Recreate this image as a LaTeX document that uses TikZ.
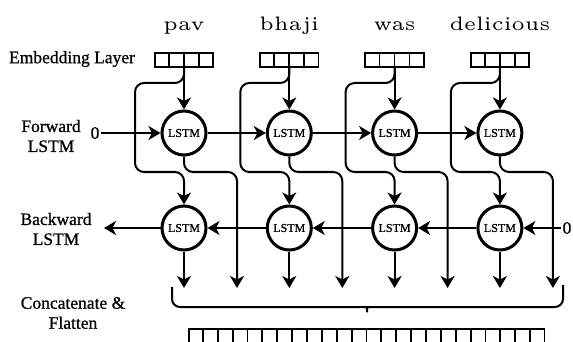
\documentclass[tikz,border=0pt]{standalone}
\usepackage{fontspec}
\setmainfont{Liberation Serif}[FakeBold=0.8]
\newfontfamily\wordfont{lmroman5-regular.otf}
\usetikzlibrary{arrows.meta,calc}
\begin{document}
\begin{tikzpicture}[x=1pt,y=-1pt,
  conn/.style={line width=2pt},
  arr/.style={conn,-{Stealth[length=12pt,width=14pt,inset=3.5pt]}},
  lstm/.style={circle,draw,line width=3pt,minimum size=44pt,inner sep=0pt,
    font=\fontsize{12}{13}\selectfont},
  lbl/.style={align=center,font=\fontsize{17.5}{20}\selectfont},
  word/.style={font=\wordfont\fontsize{19.5}{20}\selectfont,anchor=base},
  cellrow/.style={draw,line width=1.8pt,inner sep=0pt}
]
\useasboundingbox (0,0) rectangle (573,342);
\fill[white] (0,0) rectangle (573,342);

% row labels
\node[lbl] (lemb) at (72,59) {Embedding Layer};
\node[lbl] (lfwd) at (51,136) {Forward\\LSTM};
\node[lbl] (lbwd) at (56,229) {Backward\\LSTM};
\node[lbl] (lcat) at (73,313) {Concatenate \&\\Flatten};

% initial states
\node[lbl,inner sep=1pt] (z0) at (95,133) {0};
\node[lbl,inner sep=1pt] (z1) at (567,228) {0};
\coordinate (bl) at (104,228);

% one column per word
\foreach \i/\w in {0/pav,1/bhaji,2/was,3/delicious}{
  \pgfmathsetmacro{\cx}{184+105.3*\i}
  \node[word] (w\i) at (\cx,31) {\w};
  \node[cellrow,minimum width=58.5pt,minimum height=14.5pt] (e\i) at (\cx,60) {};
  \foreach \k in {1,2,3}
    \draw[line width=1.8pt] ([xshift=15*\k pt]e\i.north west) -- ([xshift=15*\k pt]e\i.south west);
  \node[lstm] (f\i) at (\cx,133) {LSTM};
  \node[lstm] (b\i) at (\cx,228) {LSTM};
  \coordinate (fo\i) at (\cx+53,288);
  \coordinate (bo\i) at (\cx,288);
  % embedding feeds both directions
  \draw[arr] (e\i.south) -- (f\i.north);
  \draw[arr,rounded corners=9pt] (e\i.south) -- (\cx,83) -- (\cx-49,83)
    -- (\cx-49,172) -- (\cx,172) -- (b\i.north);
  % outputs
  \draw[arr,rounded corners=9pt] (f\i.south) -- (\cx,172) -- (\cx+53,172) -- (fo\i);
  \draw[arr] (b\i.south) -- (bo\i);
}

% recurrent connections
\draw[arr] (z0) -- (f0);
\draw[arr] (f0) -- (f1);
\draw[arr] (f1) -- (f2);
\draw[arr] (f2) -- (f3);
\draw[arr] (z1) -- (b3);
\draw[arr] (b3) -- (b2);
\draw[arr] (b2) -- (b1);
\draw[arr] (b1) -- (b0);
\draw[arr] (b0) -- (bl);

% brace gathering all outputs
\draw[conn,rounded corners=8pt] (172,287) -- (172,307) -- (359,307)
  .. controls (366,307) and (367,309) .. (367,317)
  .. controls (367,309) and (368,307) .. (375,307)
  -- (563,307) -- (563,285);

% flattened vector
\node[cellrow,minimum width=355.5pt,minimum height=15pt,anchor=north west] (flat) at (188,328) {};
\foreach \k in {1,...,23}
  \draw[line width=1.8pt] ([xshift=\k*14.875pt]flat.north west) -- ([xshift=\k*14.875pt]flat.south west);
\end{tikzpicture}
\end{document}
